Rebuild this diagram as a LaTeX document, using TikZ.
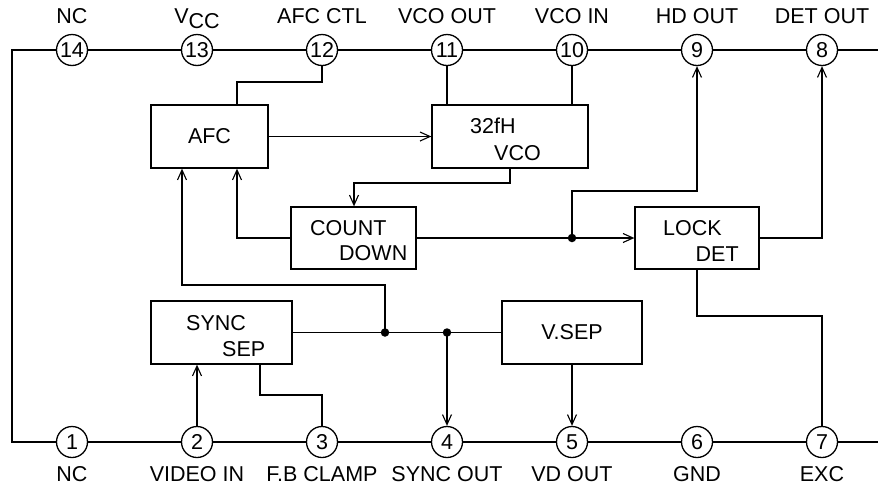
\documentclass[tikz,border=0pt]{standalone}
\usepackage{fontspec}
\setmainfont{Liberation Sans}
\usetikzlibrary{arrows.meta}
\begin{document}
\begin{tikzpicture}[x=1pt,y=-1pt,
  font=\fontsize{21.5}{25}\selectfont,
  pin/.style={circle,draw,fill=white,line width=1.3pt,minimum size=31pt,inner sep=0pt},
  blk/.style={draw,line width=1.3pt,inner sep=0pt},
  wire/.style={line width=1.2pt},
  arr/.style={wire,-{Straight Barb[length=10pt,width=9pt,line width=1.1pt]}},
  dot/.style={circle,fill,inner sep=0pt,minimum size=8.5pt},
  lbl/.style={anchor=base,inner sep=0pt},
  txt/.style={anchor=base west,inner sep=0pt},
  outline/.style={line width=2.8pt}
]
\useasboundingbox (0,0) rectangle (878,488);
% chip outline
\draw[outline] (878,50) -- (12,50) -- (12,442) -- (878,442);
% pins
\foreach \n/\x in {14/72,13/197,12/322,11/447,10/572,9/697,8/822}
  \node[pin] (p\n) at (\x,50) {\n};
\foreach \n/\x in {1/72,2/197,3/322,4/447,5/572,6/697,7/822}
  \node[pin] (p\n) at (\x,442) {\n};
% pin labels
\node[lbl] (l14) at (72,23) {NC};
\node[lbl] (l13) at (197,23) {V\raisebox{-5pt}{CC}};
\node[lbl] (l12) at (322,23) {AFC CTL};
\node[lbl] (l11) at (447,23) {VCO OUT};
\node[lbl] (l10) at (572,23) {VCO IN};
\node[lbl] (l9) at (697,23) {HD OUT};
\node[lbl] (l8) at (822,23) {DET OUT};
\node[lbl] (l1) at (72,481) {NC};
\node[lbl] (l2) at (197,481) {VIDEO IN};
\node[lbl] (l3) at (322,481) {F.B CLAMP};
\node[lbl] (l4) at (447,481) {SYNC OUT};
\node[lbl] (l5) at (572,481) {VD OUT};
\node[lbl] (l6) at (697,481) {GND};
\node[lbl] (l7) at (822,481) {EXC};
% blocks
\node[blk,minimum width=117pt,minimum height=63pt] (afc) at (209.5,136.5) {AFC};
\node[blk,minimum width=156pt,minimum height=63pt] (vco) at (510,136.5) {};
\node[blk,minimum width=125pt,minimum height=62pt] (cnt) at (353.5,238) {};
\node[blk,minimum width=124pt,minimum height=62pt] (lock) at (697,238) {};
\node[blk,minimum width=141pt,minimum height=63pt] (sync) at (221.5,332.5) {};
\node[blk,minimum width=140pt,minimum height=63pt] (vsep) at (572,332.5) {V.SEP};
% block texts
\node[txt] (t32) at (470,133.5) {32fH};
\node[txt] (tvco) at (494,160) {VCO};
\node[txt] (tcnt) at (310,235.5) {COUNT};
\node[txt] (tdown) at (339,260.5) {DOWN};
\node[txt] (tlock) at (663,235) {LOCK};
\node[txt] (tdet) at (695.5,261) {DET};
\node[txt] (tsync) at (186,330) {SYNC};
\node[txt] (tsep) at (222,356) {SEP};
% junction dots
\node[dot] (d1) at (385,332.5) {};
\node[dot] (d2) at (447,332.5) {};
\node[dot] (d3) at (572,238) {};
% bend points
\coordinate (b12) at (237,82);
\coordinate (b2) at (354,183);
\coordinate (b3) at (237,238);
\coordinate (b4) at (182,285);
\coordinate (b5) at (697,191);
\coordinate (b6) at (822,316);
\coordinate (b7) at (260,395);
\coordinate (b8) at (322,395);
% connectors
\draw[wire] (p12.south) |- (b12) -- (b12 |- afc.north);
\draw[wire] (p11.south) -- (p11.south |- vco.north);
\draw[wire] (p10.south) -- (p10.south |- vco.north);
\draw[arr] (afc.east) -- (afc.east -| vco.west);
\draw[arr] (vco.south) |- (b2) -- (b2 |- cnt.north);
\draw[arr] (cnt.west) -- (b3) -- (b3 |- afc.south);
\draw[arr] (d1.center) |- (b4) -- (b4 |- afc.south);
\draw[arr] (cnt.east) -- (lock.west);
\draw[arr] (d3.center) |- (b5) -- (p9.south);
\draw[arr] (lock.east) -| (p8.south);
\draw[wire] (lock.south) |- (b6) -- (p7.north);
\draw[wire] (sync.east) -- (vsep.west);
\draw[arr] (d2.center) -- (p4.north);
\draw[arr] (vsep.south) -- (p5.north);
\draw[arr] (p2.north) -- (p2.north |- sync.south);
\draw[wire] (b7 |- sync.south) -- (b7) -- (b8) -- (p3.north);
\end{tikzpicture}
\end{document}
